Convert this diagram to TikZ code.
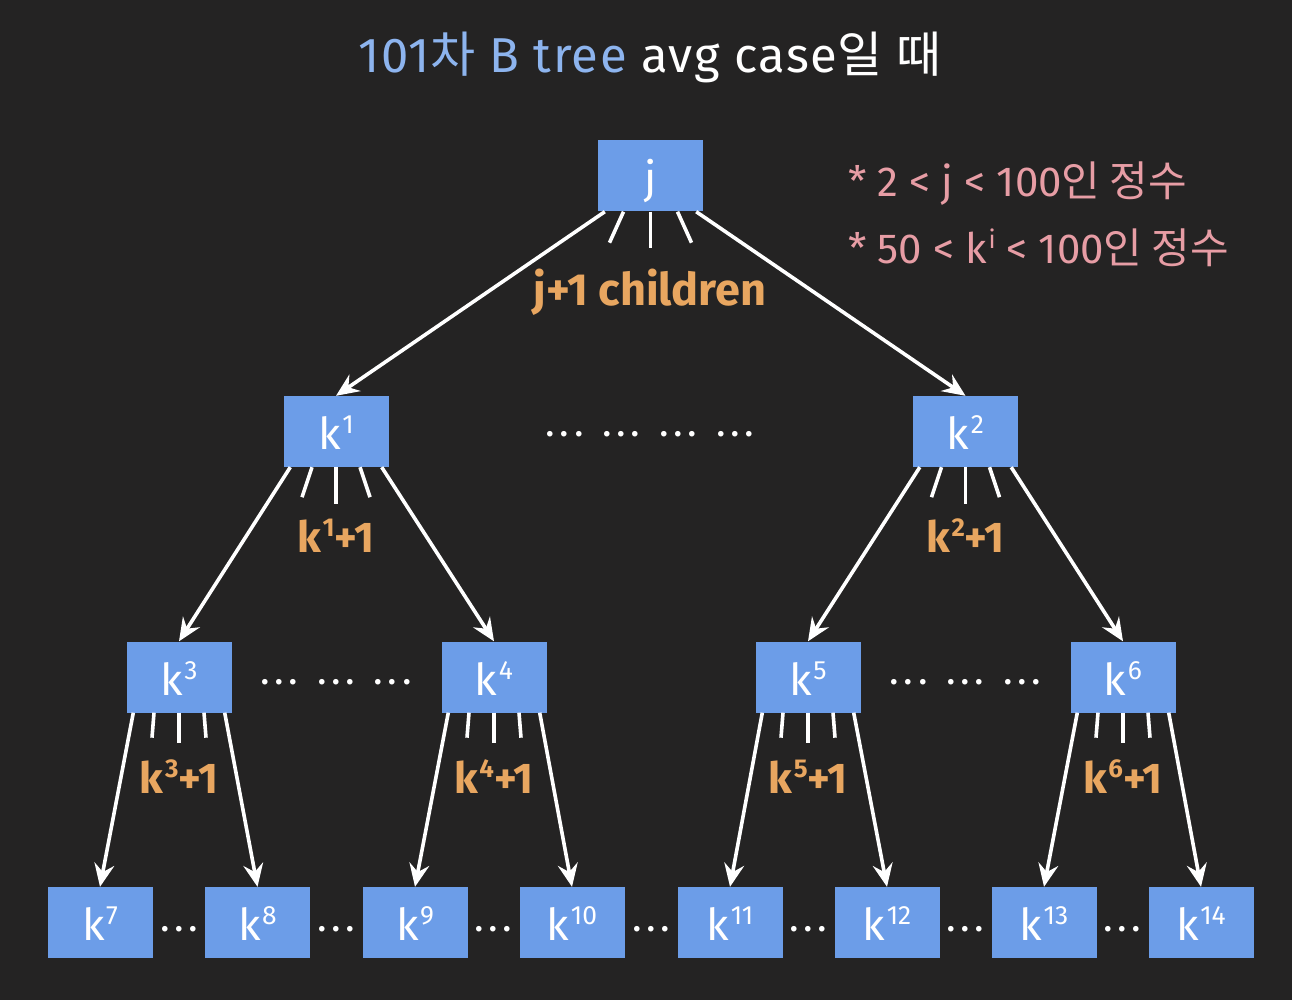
\documentclass[tikz,border=0pt]{standalone}
\usepackage{fontspec}
\usepackage{graphicx}
\setmainfont{Fira Sans}
\newfontfamily\kr{Noto Sans CJK KR}
\newfontfamily\titlefont[LetterSpace=3]{Fira Sans}
\usetikzlibrary{arrows.meta}
\definecolor{bg}{HTML}{242323}
\definecolor{boxblue}{HTML}{6C9DE8}
\definecolor{titleblue}{HTML}{8DB4EE}
\definecolor{lblorange}{HTML}{E8A660}
\definecolor{notepink}{HTML}{E79DA5}
\newcommand\up[1]{\kern1.5pt\raisebox{0.36em}{\scalebox{0.6}{#1}}}
\newcommand\dg{.\kern4.5pt.\kern4.5pt.}
\tikzset{
  bbox/.style={fill=boxblue, minimum width=105pt, minimum height=71pt, inner sep=0pt,
    text=white, text height=36pt, text depth=0pt, font=\fontsize{44}{44}\selectfont},
  conn/.style={draw=white, line width=3.6pt, -{Stealth[length=23pt,width=20pt,inset=8pt]}},
  fan/.style={draw=white, line width=3.6pt},
  lbl/.style={text=lblorange, inner sep=0pt, anchor=base, font=\fontsize{43}{43}\selectfont\bfseries},
  note/.style={text=notepink, inner sep=0pt, anchor=base west, font=\fontsize{42}{42}\selectfont},
  dots/.style={text=white, inner sep=0pt, anchor=base, font=\fontsize{40}{40}\selectfont}
}
\begin{document}
\begin{tikzpicture}[x=1pt,y=-1pt]
\fill[bg] (0,0) rectangle (1292,1000);
\useasboundingbox (0,0) rectangle (1292,1000);
% title
\node[inner sep=0pt, anchor=base, font=\fontsize{49}{49}\titlefont] (title) at (650,73)
  {\color{titleblue}101{\kr 차} B tree \color{white}avg case{\kr 일}\kern14pt{\kr 때}};
% notes
\node[note] (n1) at (848,197) {* 2 < j < 100{\kr 인 정수}};
\node[note] (n2) at (848,264) {* 50 < k\up{i} < 100{\kr 인 정수}};
% boxes
\node[bbox] (j) at (650.5,176) {j};
\node[bbox] (k1) at (336,431.5) {k\up{1}};
\node[bbox] (k2) at (965.5,431.5) {k\up{2}};
\node[bbox] (k3) at (179,677) {k\up{3}};
\node[bbox] (k4) at (494,677) {k\up{4}};
\node[bbox] (k5) at (808,677) {k\up{5}};
\node[bbox] (k6) at (1123,677) {k\up{6}};
\node[bbox] (k7) at (100,922.5) {k\up{7}};
\node[bbox] (k8) at (257.5,922.5) {k\up{8}};
\node[bbox] (k9) at (415,922.5) {k\up{9}};
\node[bbox] (k10) at (572,922.5) {k\up{10}};
\node[bbox] (k11) at (730,922.5) {k\up{11}};
\node[bbox] (k12) at (887,922.5) {k\up{12}};
\node[bbox] (k13) at (1044,922.5) {k\up{13}};
\node[bbox] (k14) at (1201,922.5) {k\up{14}};
% connectors
\draw[conn] ([xshift=7pt]j.south west) -- (k1.north);
\draw[conn] ([xshift=-7pt]j.south east) -- (k2.north);
\foreach \p/\a/\b in {k1/k3/k4, k2/k5/k6, k3/k7/k8, k4/k9/k10, k5/k11/k12, k6/k13/k14}{
  \draw[conn] ([xshift=7pt]\p.south west) -- (\a.north);
  \draw[conn] ([xshift=-7pt]\p.south east) -- (\b.north);
}
% fans
\draw[fan] ([xshift=-27pt]j.south) -- ++(-14,31);
\draw[fan] (j.south) -- ++(0,36);
\draw[fan] ([xshift=27pt]j.south) -- ++(14,31);
\foreach \p in {k1,k2}{
  \draw[fan] ([xshift=-24pt]\p.south) -- ++(-10,30);
  \draw[fan] (\p.south) -- ++(0,37);
  \draw[fan] ([xshift=24pt]\p.south) -- ++(10,30);
}
\foreach \p in {k3,k4,k5,k6}{
  \draw[fan] ([xshift=-25pt]\p.south) -- ++(-2,25);
  \draw[fan] (\p.south) -- ++(0,30);
  \draw[fan] ([xshift=25pt]\p.south) -- ++(2,25);
}
% labels
\node[lbl, font=\fontsize{45}{45}\selectfont\bfseries] (lj) at (650,305) {j+1 children};
\node[lbl] (l1) at (336,552) {k\up{1}+1};
\node[lbl] (l2) at (965.5,552) {k\up{2}+1};
\node[lbl] (l3) at (179,793) {k\up{3}+1};
\node[lbl] (l4) at (494,793) {k\up{4}+1};
\node[lbl] (l5) at (808,793) {k\up{5}+1};
\node[lbl] (l6) at (1123,793) {k\up{6}+1};
% dots
\node[dots] (d12) at (650,436) {\dg\kern19pt\dg\kern19pt\dg\kern19pt\dg};
\node[dots] (d34) at (336,684) {\dg\kern19pt\dg\kern19pt\dg};
\node[dots] (d56) at (965.5,684) {\dg\kern19pt\dg\kern19pt\dg};
\foreach \x in {179,336,493.5,651,808.5,965.5,1122.5}{
  \node[dots] at (\x,931) {\dg};
}
\end{tikzpicture}
\end{document}
